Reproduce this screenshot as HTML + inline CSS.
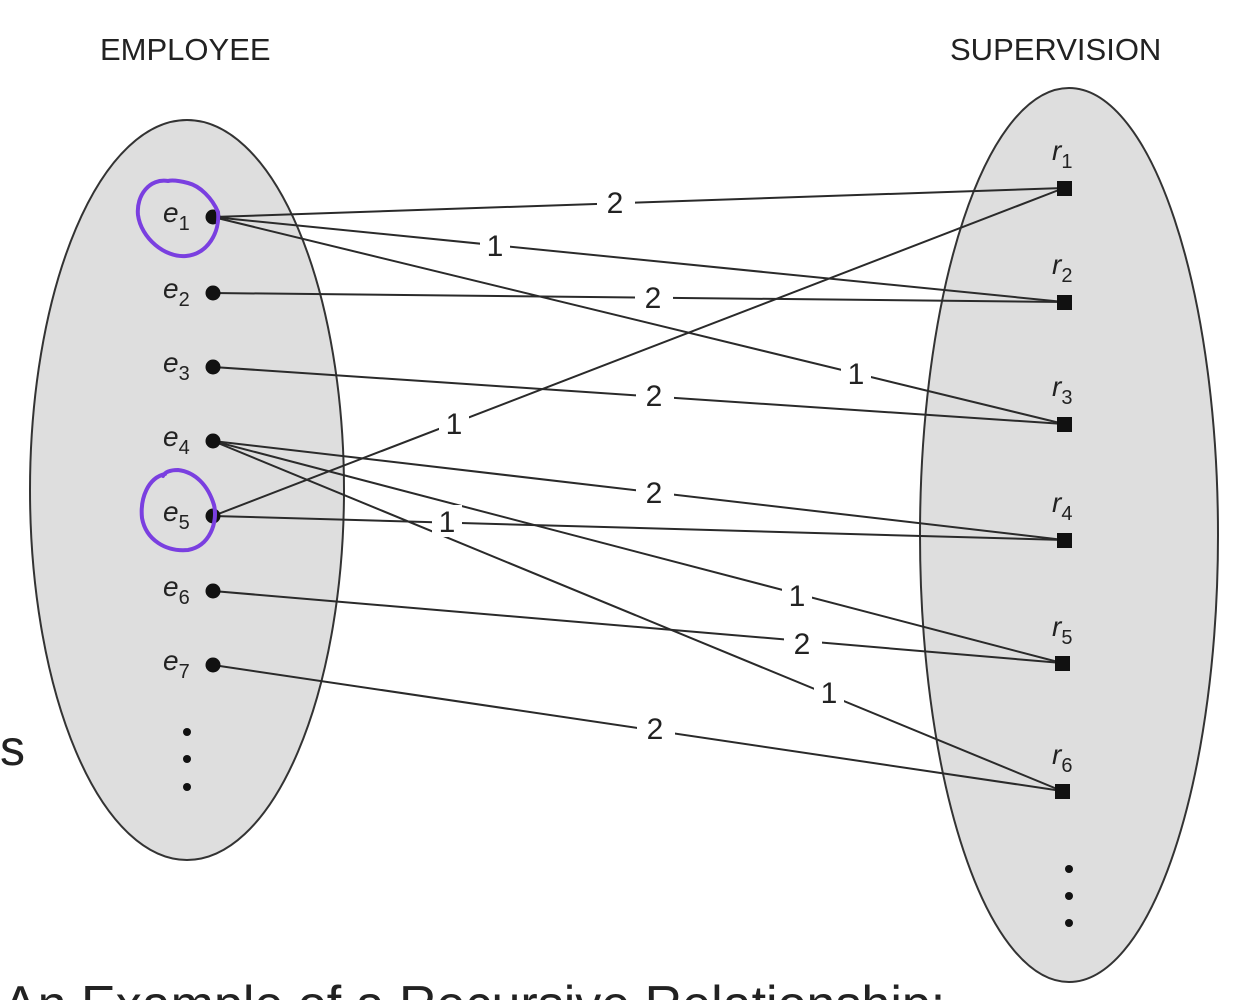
<!DOCTYPE html>
<html><head><meta charset="utf-8"><style>
html,body{margin:0;padding:0;background:#fff;width:1237px;height:1000px;overflow:hidden}
svg{display:block}
text{font-family:"Liberation Sans",sans-serif;fill:#222}
</style></head><body>
<svg width="1237" height="1000" viewBox="0 0 1237 1000">
<ellipse cx="187" cy="490" rx="157" ry="370" fill="#dedede" stroke="#333" stroke-width="2"/>
<ellipse cx="1069" cy="535" rx="149" ry="447" fill="#dedede" stroke="#333" stroke-width="2"/>
<text x="100" y="60" font-size="31">EMPLOYEE</text>
<text x="950" y="60" font-size="31">SUPERVISION</text>
<text x="0" y="765" font-size="50" fill="#000">s</text>
<text x="3" y="1022" font-size="52" fill="#000">An Example of a Recursive Relationship:</text>
<g stroke="#2a2a2a" stroke-width="2">
<line x1="213" y1="217" x2="1064" y2="188"/>
<line x1="213" y1="217" x2="1064" y2="302"/>
<line x1="213" y1="217" x2="1064" y2="424"/>
<line x1="213" y1="293" x2="1064" y2="302"/>
<line x1="213" y1="367" x2="1064" y2="424"/>
<line x1="213" y1="516" x2="1064" y2="188"/>
<line x1="213" y1="441" x2="1064" y2="540"/>
<line x1="213" y1="516" x2="1064" y2="540"/>
<line x1="213" y1="441" x2="1062" y2="663"/>
<line x1="213" y1="591" x2="1062" y2="663"/>
<line x1="213" y1="441" x2="1062" y2="791"/>
<line x1="213" y1="665" x2="1062" y2="791"/>
</g>
<g font-size="30" text-anchor="middle">
<g fill="#fff">
<rect x="597" y="186" width="38" height="32"/>
<rect x="480" y="229" width="30" height="32"/>
<rect x="841" y="357" width="30" height="32"/>
<rect x="635" y="281" width="38" height="32"/>
<rect x="636" y="379" width="38" height="32"/>
<rect x="439" y="407" width="30" height="32"/>
<rect x="636" y="476" width="38" height="32"/>
<rect x="432" y="505" width="30" height="32"/>
<rect x="782" y="579" width="30" height="32"/>
<rect x="784" y="627" width="38" height="32"/>
<rect x="814" y="676" width="30" height="32"/>
<rect x="637" y="712" width="38" height="32"/>
</g>
<text x="615" y="213">2</text>
<text x="495" y="256">1</text>
<text x="856" y="384">1</text>
<text x="653" y="308">2</text>
<text x="654" y="406">2</text>
<text x="454" y="434">1</text>
<text x="654" y="503">2</text>
<text x="447" y="532">1</text>
<text x="797" y="606">1</text>
<text x="802" y="654">2</text>
<text x="829" y="703">1</text>
<text x="655" y="739">2</text>
</g>
<g fill="#111">
<circle cx="213" cy="217" r="7.5"/><circle cx="213" cy="293" r="7.5"/><circle cx="213" cy="367" r="7.5"/>
<circle cx="213" cy="441" r="7.5"/><circle cx="213" cy="516" r="7.5"/><circle cx="213" cy="591" r="7.5"/>
<circle cx="213" cy="665" r="7.5"/>
<circle cx="187" cy="732" r="4"/><circle cx="187" cy="759" r="4"/><circle cx="187" cy="787" r="4"/>
<rect x="1057" y="181" width="15" height="15"/><rect x="1057" y="295" width="15" height="15"/>
<rect x="1057" y="417" width="15" height="15"/><rect x="1057" y="533" width="15" height="15"/>
<rect x="1055" y="656" width="15" height="15"/><rect x="1055" y="784" width="15" height="15"/>
<circle cx="1069" cy="869" r="4"/><circle cx="1069" cy="896" r="4"/><circle cx="1069" cy="923" r="4"/>
</g>
<g font-size="28" font-style="italic">
<text x="163" y="222">e<tspan font-size="20" font-style="normal" dy="8">1</tspan></text>
<text x="163" y="298">e<tspan font-size="20" font-style="normal" dy="8">2</tspan></text>
<text x="163" y="372">e<tspan font-size="20" font-style="normal" dy="8">3</tspan></text>
<text x="163" y="446">e<tspan font-size="20" font-style="normal" dy="8">4</tspan></text>
<text x="163" y="521">e<tspan font-size="20" font-style="normal" dy="8">5</tspan></text>
<text x="163" y="596">e<tspan font-size="20" font-style="normal" dy="8">6</tspan></text>
<text x="163" y="670">e<tspan font-size="20" font-style="normal" dy="8">7</tspan></text>
<text x="1052" y="160">r<tspan font-size="20" font-style="normal" dy="8">1</tspan></text>
<text x="1052" y="274">r<tspan font-size="20" font-style="normal" dy="8">2</tspan></text>
<text x="1052" y="396">r<tspan font-size="20" font-style="normal" dy="8">3</tspan></text>
<text x="1052" y="512">r<tspan font-size="20" font-style="normal" dy="8">4</tspan></text>
<text x="1052" y="636">r<tspan font-size="20" font-style="normal" dy="8">5</tspan></text>
<text x="1052" y="764">r<tspan font-size="20" font-style="normal" dy="8">6</tspan></text>
</g>
<g fill="none" stroke="#7a3fe0" stroke-width="4" stroke-linecap="round">
<path d="M168 181 C150 178 136 195 138 215 C141 238 165 258 186 256 C208 254 220 232 218 212 C212 198 200 186 188 183 C180 181 172 180 168 181"/>
<path d="M165 474 C148 478 140 498 142 518 C146 540 166 552 188 550 C210 546 218 522 214 505 C208 485 195 472 178 470 C170 470 165 472 163 476"/>
</g>
</svg>
</body></html>
